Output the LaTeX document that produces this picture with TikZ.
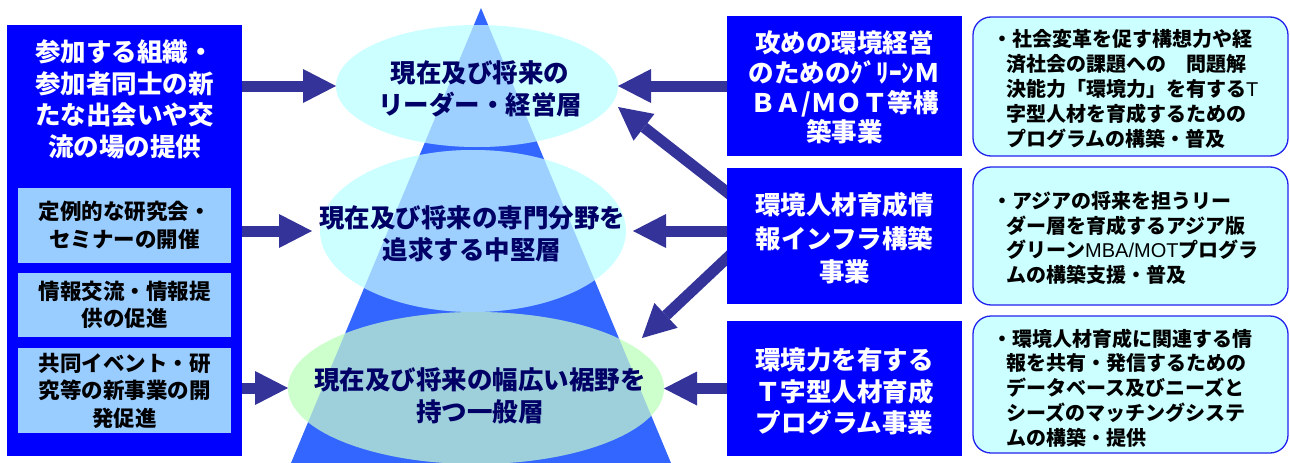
\documentclass[tikz,border=0pt]{standalone}
\usepackage{fontspec}
\newfontfamily\jp{Noto Sans CJK JP}
\newfontfamily\lat{Liberation Sans}
\usetikzlibrary{arrows.meta,shapes.geometric}
\definecolor{pyrblue}{HTML}{3366FF}
\definecolor{ellcyan}{HTML}{CCFFFF}
\definecolor{ellgreen}{HTML}{CCFFCC}
\definecolor{boxblue}{HTML}{0000FF}
\definecolor{subblue}{HTML}{99CCFF}
\definecolor{arrowblue}{HTML}{333399}
\definecolor{navytext}{HTML}{000066}
\definecolor{rboxfill}{HTML}{CCFFFF}
\definecolor{rboxline}{HTML}{2222EE}
\tikzset{
  bluebox/.style={fill=boxblue, draw=none, inner sep=0pt, outer sep=0pt, anchor=north west},
  subbox/.style={fill=subblue, draw=none, inner sep=0pt, outer sep=0pt, minimum width=213pt,
    font=\jp\bfseries\fontsize{21.5}{27.5}\selectfont, align=center, text=black},
  rbox/.style={fill=rboxfill, draw=rboxline, line width=1.3pt, rounded corners=18pt,
    inner sep=0pt, outer sep=0pt, anchor=north west, minimum width=315pt},
  ell/.style={ellipse, draw=none, inner sep=0pt, outer sep=0pt},
  etext/.style={font=\jp\bfseries\fontsize{25.5}{32}\selectfont, align=center, text=navytext, inner sep=0pt},
  wtext/.style={font=\jp\bfseries\fontsize{25.5}{31.5}\selectfont, align=center, text=white, inner sep=0pt},
  rtext/.style={font=\jp\bfseries\fontsize{20}{24.8}\selectfont, align=left, text=black, inner sep=0pt, anchor=west},
  fat/.style={draw=arrowblue, line width=11pt, -{Triangle[length=33pt,width=34pt,line width=0pt]}},
  overlap/.style={fill=pyrblue, opacity=0.3}
}
\begin{document}
\begin{tikzpicture}[x=1pt,y=-1pt]
\useasboundingbox (0,0) rectangle (1290,463);
\fill[white] (0,0) rectangle (1290,463);

% pyramid
\fill[pyrblue] (481,8) -- (291,463) -- (671,463) -- cycle;

% ellipses
\node[ell, fill=ellcyan, minimum width=282pt, minimum height=122pt] (E1) at (477,86) {};
\node[ell, fill=ellcyan, minimum width=306pt, minimum height=162pt] (E2) at (473,231) {};
\node[ell, fill=ellgreen, minimum width=376pt, minimum height=152pt] (E3) at (476,388) {};
\begin{scope}
  \clip (477,86) ellipse [x radius=141pt, y radius=61pt];
  \fill[overlap] (481,8) -- (291,463) -- (671,463) -- cycle;
\end{scope}
\begin{scope}
  \clip (473,231) ellipse [x radius=153pt, y radius=81pt];
  \fill[overlap] (481,8) -- (291,463) -- (671,463) -- cycle;
\end{scope}
\begin{scope}
  \clip (476,388) ellipse [x radius=188pt, y radius=76pt];
  \fill[overlap] (481,8) -- (291,463) -- (671,463) -- cycle;
\end{scope}

% named free ends
\coordinate (t1) at (618,107);
\coordinate (t3) at (642,338);

% boxes
\node[bluebox, minimum width=235pt, minimum height=431pt] (L) at (7,25) {};
\node[bluebox, minimum width=235pt, minimum height=140pt] (RA) at (727,16) {};
\node[bluebox, minimum width=235pt, minimum height=136pt] (RB) at (727,168) {};
\node[bluebox, minimum width=235pt, minimum height=135pt] (RC) at (727,321) {};

% arrows
\draw[fat] (L.east |- E1.west) -- (E1.west);
\draw[fat] (L.east |- E2.west) -- ([xshift=-8pt]E2.west);
\draw[fat] (L.east |- E3.west) -- (E3.west);
\draw[fat] (RA.west |- E1.east) -- (E1.east);
\draw[fat] ([xshift=10pt,yshift=36pt]RB.west) -- (t1);
\draw[fat] (RB.west |- E2.east) -- ([xshift=7pt]E2.east);
\draw[fat] ([xshift=10pt,yshift=-12.6pt]RB.west) -- (t3);
\draw[fat] (RC.west) -- (RC.west -| E3.east);

% repaint box over arrow tails
\fill[boxblue] (RB.north west) rectangle (RB.south east);

% ellipse texts
\node[etext] at (480,89) {現在及び将来の\\リーダー・経営層};
\node[etext] at (472,234) {現在及び将来の専門分野を\\追求する中堅層};
\node[etext] at (480,396) {現在及び将来の幅広い裾野を\\持つ一般層};

% left column
\node[wtext] at (124.5,99.5) {参加する組織・\\参加者同士の新\\たな出会いや交\\流の場の提供};
\node[subbox, minimum height=75pt] (S1) at (124.5,225.5) {定例的な研究会・\\セミナーの開催};
\node[subbox, minimum height=64pt] (S2) at (124.5,305) {情報交流・情報提\\供の促進};
\node[subbox, minimum height=85pt] (S3) at (124.5,390.5) {共同イベント・研\\究等の新事業の開\\発促進};

% right blue box texts
\node[wtext, font=\jp\bfseries\fontsize{25.5}{29.7}\selectfont] at (844.5,87.5) {攻めの環境経営\\のためのｸﾞﾘｰﾝＭ\\ＢＡ/ＭＯＴ等構\\築事業};
\node[wtext, font=\jp\bfseries\fontsize{25.5}{33.5}\selectfont] at (844.5,238.5) {環境人材育成情\\報インフラ構築\\事業};
\node[wtext, font=\jp\bfseries\fontsize{25.5}{31.5}\selectfont] at (844.5,391.5) {環境力を有する\\Ｔ字型人材育成\\プログラム事業};

% right rounded boxes
\node[rbox, minimum height=139pt] (R1) at (973,17) {};
\node[rbox, minimum height=138pt] (R2) at (973,167) {};
\node[rbox, minimum height=137pt] (R3) at (973,316) {};
\node[rtext] at (1006,89) {\hspace*{-14pt}・社会変革を促す構想力や経\\済社会の課題への　問題解\\決能力「環境力」を有する{\lat\mdseries T}\\字型人材を育成するための\\プログラムの構築・普及};
\node[rtext] at (1006,238) {\hspace*{-14pt}・アジアの将来を担うリー\\ダー層を育成するアジア版\\グリーン{\lat\mdseries MBA/MOT}プログラ\\ムの構築支援・普及};
\node[rtext] at (1006,388) {\hspace*{-14pt}・環境人材育成に関連する情\\報を共有・発信するための\\データベース及びニーズと\\シーズのマッチングシステ\\ムの構築・提供};
\end{tikzpicture}
\end{document}
